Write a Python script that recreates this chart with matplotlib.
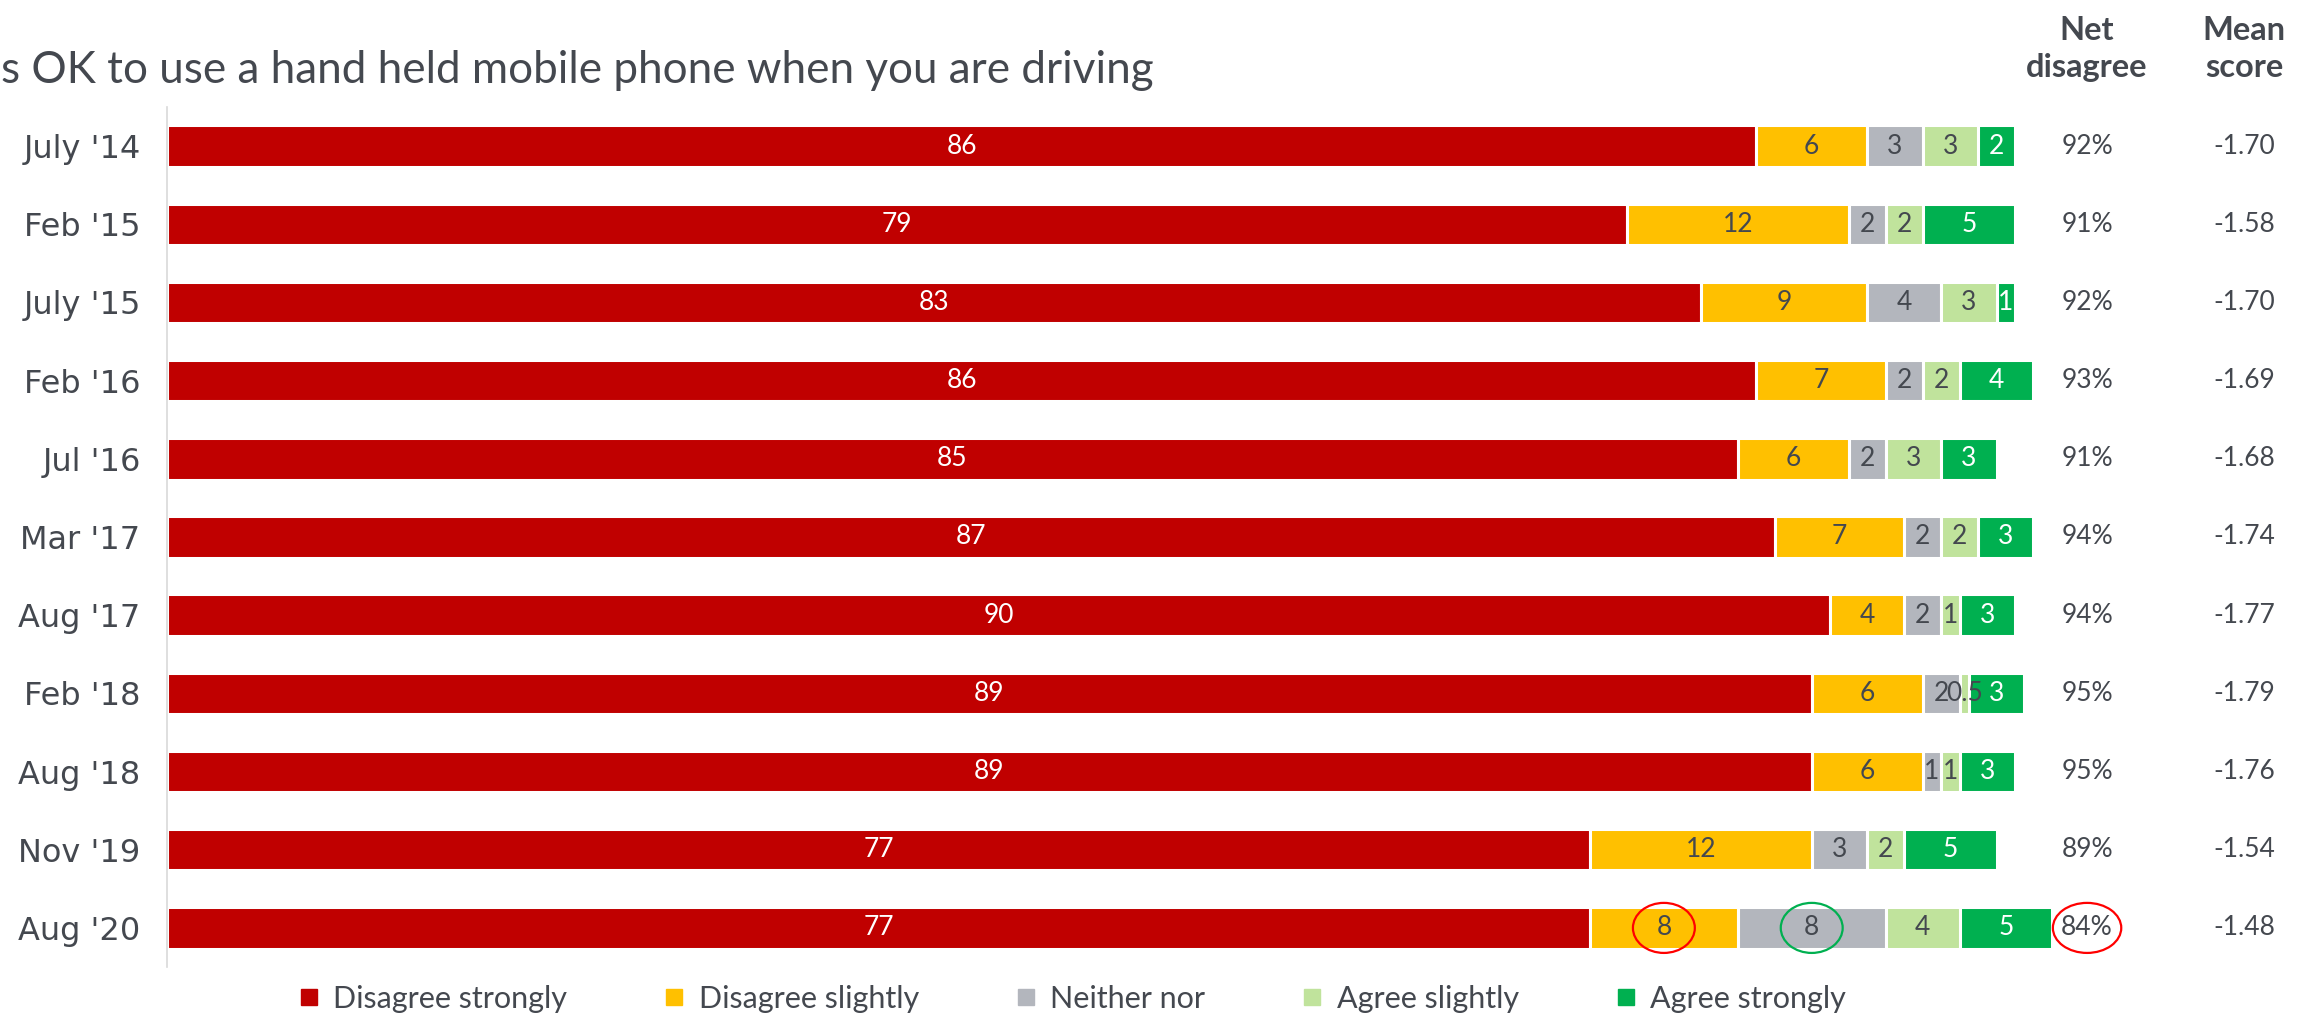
import matplotlib
matplotlib.use('Agg')
import matplotlib.pyplot as plt
from matplotlib.patches import Ellipse
from matplotlib.lines import Line2D

# survey waves, top to bottom
waves = ["July '14", "Feb '15", "July '15", "Feb '16", "Jul '16", "Mar '17",
         "Aug '17", "Feb '18", "Aug '18", "Nov '19", "Aug '20"]

disagree_strongly = [86, 79, 83, 86, 85, 87, 90, 89, 89, 77, 77]
disagree_slightly = [6, 12, 9, 7, 6, 7, 4, 6, 6, 12, 8]
neither_nor       = [3, 2, 4, 2, 2, 2, 2, 2, 1, 3, 8]
agree_slightly    = [3, 2, 3, 2, 3, 2, 1, 0.5, 1, 2, 4]
agree_strongly    = [2, 5, 1, 4, 3, 3, 3, 3, 3, 5, 5]

net_disagree = ['92%', '91%', '92%', '93%', '91%', '94%', '94%', '95%', '95%', '89%', '84%']
mean_score = ['-1.70', '-1.58', '-1.70', '-1.69', '-1.68', '-1.74', '-1.77', '-1.79',
              '-1.76', '-1.54', '-1.48']

series_names = ['Disagree strongly', 'Disagree slightly', 'Neither nor',
                'Agree slightly', 'Agree strongly']
series = [disagree_strongly, disagree_slightly, neither_nor, agree_slightly, agree_strongly]
colors = ['#C00000', '#FFC000', '#B3B6BD', '#C0E39C', '#00B050']
label_colors = ['white', '#44484F', '#44484F', '#44484F', 'white']

# (row, segment or 'net', ring colour)
highlights = [(10, 1, '#FF0000'), (10, 2, '#00B050'), (10, 'net', '#FF0000')]

title = "s OK to use a hand held mobile phone when you are driving"

txt = '#44484F'
W, H = 2313, 1017
fig = plt.figure(figsize=(W / 100, H / 100), dpi=100)
ax = fig.add_axes([167 / W, 1 - 967 / H, 1 - 167 / W, 860 / H])

x_net = 103.9
x_mean = 112.4
bar_h = 0.53
rows = list(range(len(waves)))

left = [0] * len(waves)
for s, vals in enumerate(series):
    ax.barh(rows, vals, left=left, height=bar_h, color=colors[s],
            edgecolor='white', linewidth=2.2)
    for i, v in enumerate(vals):
        ax.text(left[i] + v / 2, i, '%g' % v, ha='center', va='center',
                fontsize=19, family='Lato', color=label_colors[s])
    left = [l + v for l, v in zip(left, vals)]

for i in rows:
    ax.text(x_net, i, net_disagree[i], ha='center', va='center',
            fontsize=19, family='Lato', color=txt)
    ax.text(x_mean, i, mean_score[i], ha='center', va='center',
            fontsize=19, family='Lato', color=txt)

for row, seg, col in highlights:
    if seg == 'net':
        cx, w = x_net, 3.7
    else:
        cx = sum(series[k][row] for k in range(seg)) + series[seg][row] / 2
        w = 3.35
    ax.add_patch(Ellipse((cx, row), w, 0.64, fill=False, edgecolor=col,
                         linewidth=1.6, clip_on=False))

# column headers
hdr = ax.get_xaxis_transform()
ax.text(x_net, 1.0674, 'Net\ndisagree', transform=hdr, ha='center', va='center',
        fontsize=23.5, family='Lato', weight='bold', color=txt, linespacing=1.3)
ax.text(x_mean, 1.0674, 'Mean\nscore', transform=hdr, ha='center', va='center',
        fontsize=23.5, family='Lato', weight='bold', color=txt, linespacing=1.3)

fig.text(1 / W, 1 - 83 / H, title, ha='left', va='baseline',
         fontsize=31.7, family='Lato', color=txt)

ax.set_xlim(0, (W - 167) / 18.48)
ax.set_ylim(len(waves) - 0.5, -0.5)
ax.set_yticks(rows)
ax.set_yticklabels(waves, fontsize=23, family='DejaVu Sans', color=txt)
ax.tick_params(axis='y', length=0, pad=19)
ax.set_xticks([])
for sp in ['top', 'right', 'bottom']:
    ax.spines[sp].set_visible(False)
ax.spines['left'].set_color('#D9D9D9')
ax.spines['left'].set_linewidth(1.2)

handles = [Line2D([], [], marker='s', linestyle='none', markersize=11,
                  markerfacecolor=c, markeredgecolor=c) for c in colors]
fig.legend(handles, series_names, loc='center', bbox_to_anchor=(1070 / W, 1 - 999 / H),
           ncol=5, frameon=False, handletextpad=0.3, columnspacing=3.0,
           handlelength=1.0, prop={'family': 'Lato', 'size': 22}, labelcolor=txt)

fig.savefig('out.png', dpi=100)
